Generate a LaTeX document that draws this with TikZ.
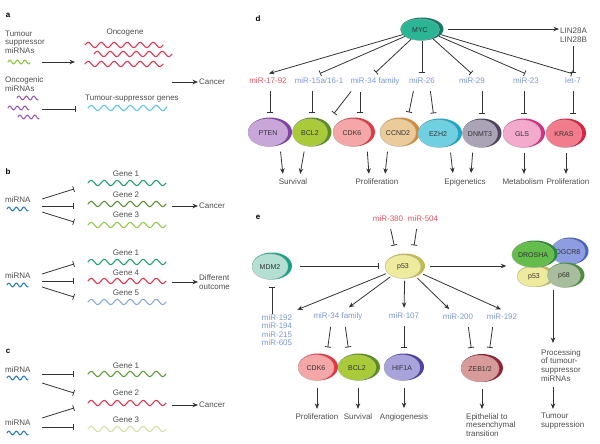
\documentclass[tikz,border=0pt]{standalone}
\usepackage{fontspec}
\setmainfont{Liberation Sans}
\usetikzlibrary{arrows.meta,shapes.geometric}
\definecolor{txt}{HTML}{4D4D4D}
\definecolor{ln}{HTML}{333333}
\definecolor{mirblue}{HTML}{7B98CF}
\definecolor{mirred}{HTML}{E0535F}
\definecolor{wred}{HTML}{E23550}
\definecolor{acyan}{HTML}{5EC6E6}
\definecolor{agreen}{HTML}{8CC63F}
\definecolor{apurple}{HTML}{9A5CB4}
\definecolor{mirw}{HTML}{2D7DBF}
\definecolor{gone}{HTML}{22A06C}
\definecolor{gtwo}{HTML}{5E8E3A}
\definecolor{gthree}{HTML}{93C74C}
\definecolor{gfive}{HTML}{8DA7D9}
\definecolor{cgone}{HTML}{5E9B3B}
\definecolor{cgthree}{HTML}{D4DFA6}
\definecolor{mycL}{HTML}{2AB594}\definecolor{mycD}{HTML}{137A66}
\definecolor{ptenL}{HTML}{C9A6DA}\definecolor{ptenD}{HTML}{8040A8}
\definecolor{bclL}{HTML}{A9CB3A}\definecolor{bclD}{HTML}{5B8E1E}
\definecolor{cdkL}{HTML}{F5A6A6}\definecolor{cdkD}{HTML}{E33845}
\definecolor{ccnL}{HTML}{EBCB99}\definecolor{ccnD}{HTML}{D58A36}
\definecolor{ezhL}{HTML}{70D0E2}\definecolor{ezhD}{HTML}{1CA6CA}
\definecolor{dnmL}{HTML}{ABA4B6}\definecolor{dnmD}{HTML}{4E4460}
\definecolor{glsL}{HTML}{F3AACD}\definecolor{glsD}{HTML}{D62F84}
\definecolor{krasL}{HTML}{F27C8C}\definecolor{krasD}{HTML}{DB2442}
\definecolor{mdmL}{HTML}{B4DFD3}\definecolor{mdmD}{HTML}{1DA184}
\definecolor{psL}{HTML}{EEEA9E}\definecolor{psD}{HTML}{C2BA4E}
\definecolor{hifL}{HTML}{A9A3DB}\definecolor{hifD}{HTML}{4B43A6}
\definecolor{zebL}{HTML}{D99A9A}\definecolor{zebD}{HTML}{952535}
\definecolor{droL}{HTML}{64BC4C}\definecolor{droD}{HTML}{2B8B31}
\definecolor{dgcL}{HTML}{8C9DE2}\definecolor{dgcD}{HTML}{4A63C6}
\definecolor{psxL}{HTML}{A8BD9B}\definecolor{psxD}{HTML}{4F8C3F}
% wave: x0, length, y, colour, period, amplitude
\newcommand\wv[6]{\draw[#4, line width=1.1pt, line cap=round] plot[domain=0:#2, samples=90, smooth] ({#1+\x},{#3-#6*sin((\x/#5)*360)});}
% blob: name, x, y, w, h, light, dark, text
\newcommand\blob[8]{%
  \node[ellipse, fill=#7, minimum width=#4pt, minimum height=#5pt, inner sep=0pt] (#1) at (#2,#3) {};
  \node[ellipse, fill=#6, draw=black!30, line width=0.3pt, minimum width={(#4-4)*1pt}, minimum height={(#5-1.5)*1pt}, inner sep=0pt, font=\fontsize{7}{8}\selectfont, text=ln] (#1l) at (#2-2,#3+0.6) {#8};
}
\begin{document}
\begin{tikzpicture}[x=1pt,y=-1pt,
  every node/.style={font=\fontsize{8}{8.7}\selectfont, text=txt, inner sep=1pt},
  blu/.style={text=mirblue, inner sep=4pt},
  mirr/.style={text=mirred, inner sep=4pt},
  outs/.style={inner sep=4pt},
  con/.style={draw=ln, line width=0.8pt},
  arr/.style={con, -{Stealth[length=5.5pt,width=4.5pt]}},
  inh/.style={con, -{Bar[width=6pt]}},
  letter/.style={font=\fontsize{8}{9}\selectfont\bfseries, text=black}]
\useasboundingbox (0,0) rectangle (600,444);

% ---------------- panel a
\node[letter] (la) at (8,15) {a};
\node[anchor=west, align=left] (tsm) at (4,42) {Tumour\\suppressor\\miRNAs};
\wv{8}{22}{62}{agreen}{7.5}{1.8}
\coordinate (as1) at (42,62); \coordinate (ae1) at (75,62);
\draw[arr] (as1) -- (ae1);
\node (onc) at (125,33) {Oncogene};
\wv{85}{78}{45}{wred}{13}{2.6}
\wv{94}{78}{54}{wred}{13}{2.6}
\wv{85}{78}{64}{wred}{13}{2.6}
\node[anchor=west, align=left] (ocm) at (4,84) {Oncogenic\\miRNAs};
\wv{17}{21}{98}{apurple}{7.5}{1.8}
\wv{8}{21}{108}{apurple}{7.5}{1.8}
\wv{18}{21}{117}{apurple}{7.5}{1.8}
\coordinate (as2) at (42,109); \coordinate (ae2) at (76,109);
\draw[inh] (as2) -- (ae2);
\node (tsg) at (132,99) {Tumour-suppressor genes};
\wv{88}{79}{108}{acyan}{13}{2.6}
\node[anchor=west] (cana) at (198,82) {Cancer};
\coordinate (ao) at (172,82);
\draw[arr] (ao) -- (cana.west);

% ---------------- panel b
\node[letter] (lb) at (8,172) {b};
\node[anchor=west] (mb1) at (4,200) {miRNA};
\wv{7}{21}{209}{mirw}{7.5}{1.8}
\coordinate (bs1) at (42,199); \coordinate (be1) at (74,189);
\coordinate (bs2) at (42,206); \coordinate (be2) at (74,206);
\coordinate (bs3) at (42,212); \coordinate (be3) at (74,222);
\draw[inh] (bs1) -- (be1); \draw[inh] (bs2) -- (be2); \draw[inh] (bs3) -- (be3);
\node (bg1) at (126,174) {Gene 1}; \wv{88}{78}{183}{gone}{13}{2.6}
\node (bg2) at (126,195) {Gene 2}; \wv{88}{78}{204}{gtwo}{13}{2.6}
\node (bg3) at (126,215) {Gene 3}; \wv{88}{78}{225}{gthree}{13}{2.6}
\coordinate (bo1) at (172,206);
\node[anchor=west] (canb) at (198,206) {Cancer};
\draw[arr] (bo1) -- (canb.west);

\node (bg4a) at (126,253) {Gene 1}; \wv{88}{78}{262}{gone}{13}{2.6}
\node (bg4) at (126,273) {Gene 4}; \wv{88}{78}{281}{wred}{13}{2.6}
\node (bg5) at (126,293) {Gene 5}; \wv{88}{78}{302}{gfive}{13}{2.6}
\node[anchor=west] (mb2) at (4,276) {miRNA};
\wv{7}{21}{285}{mirw}{7.5}{1.8}
\coordinate (bs4) at (42,274); \coordinate (be4) at (74,264);
\coordinate (bs5) at (42,281); \coordinate (be5) at (74,281);
\coordinate (bs6) at (42,287); \coordinate (be6) at (74,297);
\draw[inh] (bs4) -- (be4); \draw[inh] (bs5) -- (be5); \draw[inh] (bs6) -- (be6);
\coordinate (bo2) at (172,282);
\node[anchor=west, align=left] (diff) at (198,282) {Different\\outcome};
\draw[arr] (bo2) -- (diff.west);

% ---------------- panel c
\node[letter] (lc) at (8,351) {c};
\node[anchor=west] (mc1) at (4,370) {miRNA};
\wv{7}{21}{378}{mirw}{7.5}{1.8}
\node (cg1) at (126,366) {Gene 1}; \wv{88}{78}{374}{cgone}{13}{2.6}
\node (cg2) at (126,393) {Gene 2}; \wv{88}{78}{403}{wred}{13}{2.6}
\node (cg3) at (126,420) {Gene 3}; \wv{88}{78}{429}{cgthree}{13}{2.6}
\node[anchor=west] (mc2) at (4,423) {miRNA};
\wv{7}{21}{433}{mirw}{7.5}{1.8}
\coordinate (cs1) at (42,374); \coordinate (ce1) at (74,374);
\coordinate (cs2) at (42,383); \coordinate (ce2) at (74,393);
\coordinate (cs3) at (42,418); \coordinate (ce3) at (74,408);
\coordinate (cs4) at (42,427); \coordinate (ce4) at (74,427);
\draw[inh] (cs1) -- (ce1); \draw[inh] (cs2) -- (ce2);
\draw[inh] (cs3) -- (ce3); \draw[inh] (cs4) -- (ce4);
\coordinate (co) at (172,405);
\node[anchor=west] (canc) at (198,405) {Cancer};
\draw[arr] (co) -- (canc.west);

% ---------------- panel d
\node[letter] (ld) at (258,19) {d};
\blob{myc}{422}{29}{43}{23}{mycL}{mycD}{MYC}
\node[mirr] (m1792) at (268,81) {miR-17-92};
\node[blu] (m15) at (319,81) {miR-15a/16-1};
\node[blu] (m34) at (375,81) {miR-34 family};
\node[blu] (m26) at (422,81) {miR-26};
\node[blu] (m29) at (472,81) {miR-29};
\node[blu] (m23) at (526,81) {miR-23};
\node[blu] (let7) at (573,81) {let-7};
\node[anchor=west, align=left] (lin) at (559,35) {LIN28A\\LIN28B};

\draw[arr, shorten >=1pt] (myc) -- (m1792.north);
\draw[inh, shorten >=1pt] (myc) -- (m15.north);
\draw[inh, shorten >=1pt] (myc) -- (m34.north);
\draw[inh, shorten >=1pt] (myc) -- (m26.north);
\draw[inh, shorten >=1pt] (myc) -- (m29.north);
\draw[inh, shorten >=1pt] (myc) -- (m23.north);
\draw[inh, shorten >=1pt] (myc) -- (let7.north);
\draw[arr, shorten <=4pt] (myc.east) -- (lin.west |- myc.east);
\draw[inh, shorten <=3pt, shorten >=1pt] (let7.north |- lin.south) -- (let7.north);

\blob{pten}{270}{132}{44}{29}{ptenL}{ptenD}{PTEN}
\blob{bcld}{312}{132}{39}{29}{bclL}{bclD}{BCL2}
\blob{cdkd}{354}{132}{42}{29}{cdkL}{cdkD}{CDK6}
\blob{ccnd}{400}{132}{40}{29}{ccnL}{ccnD}{CCND2}
\blob{ezh}{440}{133}{44}{29}{ezhL}{ezhD}{EZH2}
\blob{dnmt}{482}{133}{39}{29}{dnmL}{dnmD}{DNMT3}
\blob{gls}{524}{133}{42}{29}{glsL}{glsD}{GLS}
\blob{kras}{566}{133}{40}{29}{krasL}{krasD}{KRAS}

\tikzset{dbar/.style={inh, shorten <=3pt, shorten >=5pt}}
\draw[dbar] (m1792.south -| pten) -- (pten.north);
\draw[dbar] (m15.south -| bcld) -- (bcld.north);
\draw[dbar] ([xshift=-22pt]m34.south) -- ([xshift=19pt]bcld.north);
\draw[dbar] ([xshift=-15pt]m34.south) -- ([xshift=-15pt]m34.south |- cdkd.north);
\draw[dbar] ([xshift=-8pt]m26.south) -- ([xshift=8pt]ccnd.north);
\draw[dbar] ([xshift=8pt]m26.south) -- ([xshift=-6pt]ezh.north);
\draw[dbar] (m29.south -| dnmt) -- (dnmt.north);
\draw[dbar] (m23.south -| gls) -- (gls.north);
\draw[dbar] (let7.south) -- (let7.south |- kras.north);

\node[outs] (surv) at (293,182) {Survival};
\node[outs] (prol) at (377,182) {Proliferation};
\node[outs] (epig) at (465,182) {Epigenetics};
\node[outs] (metab) at (523,182) {Metabolism};
\node[outs] (prolb) at (568,182) {Proliferation};
\tikzset{darr/.style={arr, shorten <=5pt, shorten >=1pt}}
\draw[darr] ([xshift=10pt]pten.south) -- ([xshift=-10pt]surv.north);
\draw[darr] ([xshift=-7pt]bcld.south) -- ([xshift=7pt]surv.north);
\draw[darr] ([xshift=13pt]cdkd.south) -- ([xshift=-8pt]prol.north);
\draw[darr] ([xshift=-12pt]ccnd.south) -- ([xshift=8pt]prol.north);
\draw[darr] ([xshift=10pt]ezh.south) -- ([xshift=-12pt]epig.north);
\draw[darr] ([xshift=-9pt]dnmt.south) -- ([xshift=6pt]epig.north);
\draw[darr] (gls.south) -- (gls.south |- metab.north);
\draw[darr] (kras.south) -- (kras.south |- prolb.north);

% ---------------- panel e
\node[letter] (le) at (258,217) {e};
\node[mirr] (m380) at (388,219) {miR-380};
\node[mirr] (m504) at (423,219) {miR-504};
\blob{mdm}{272}{266}{40}{27}{mdmL}{mdmD}{MDM2}
\blob{pf}{405}{266}{40}{25}{psL}{psD}{p53}
\draw[inh, shorten <=3pt, shorten >=8pt] ([xshift=2pt]m380.south) -- ([xshift=-9pt]pf.north);
\draw[inh, shorten <=3pt, shorten >=8pt] ([xshift=-6pt]m504.south) -- ([xshift=8pt]pf.north);
\draw[inh, shorten <=8pt, shorten >=6pt] (mdm) -- (pf);

\node[blu, align=center, font=\fontsize{8}{8.5}\selectfont] (m192l) at (277,330) {miR-192\\miR-194\\miR-215\\miR-605};
\node[blu] (m34e) at (338,316) {miR-34 family};
\node[blu] (m107) at (404,316) {miR-107};
\node[blu] (m200) at (458,317) {miR-200};
\node[blu] (m192r) at (502,317) {miR-192};
\draw[inh, shorten <=-4pt, shorten >=7pt] (m192l.north -| mdm) -- (mdm.south);
\tikzset{parr/.style={arr, shorten <=2pt, shorten >=1pt}}
\draw[parr] (pf) -- (m192l.north east);
\draw[parr] (pf) -- ([xshift=10pt]m34e.north);
\draw[parr] (pf) -- (m107.north);
\draw[parr] (pf) -- ([xshift=-8pt]m200.north);
\draw[parr] (pf) -- (m192r.north);

\blob{cdke}{318}{367}{40}{27}{cdkL}{cdkD}{CDK6}
\blob{bcle}{359}{367}{42}{27}{bclL}{bclD}{BCL2}
\blob{hif}{404}{367}{40}{27}{hifL}{hifD}{HIF1A}
\blob{zeb}{482}{368}{42}{28}{zebL}{zebD}{ZEB1/2}
\tikzset{ebar/.style={inh, shorten <=3pt, shorten >=6pt}}
\draw[ebar] ([xshift=-7pt]m34e.south) -- ([xshift=9pt]cdke.north);
\draw[ebar] ([xshift=7pt]m34e.south) -- ([xshift=-10pt]bcle.north);
\draw[ebar] (m107.south) -- (hif.north);
\draw[ebar] ([xshift=10pt]m200.south) -- ([xshift=-10pt]zeb.north);
\draw[ebar] ([xshift=-9pt]m192r.south) -- ([xshift=7pt]zeb.north);

\node[outs] (prole) at (317,417) {Proliferation};
\node[outs] (surve) at (358,417) {Survival};
\node[outs] (angio) at (404,417) {Angiogenesis};
\node[anchor=north west, align=left] (emt) at (465,412) {Epithelial to\\mesenchymal\\transition};
\tikzset{earr/.style={arr, shorten <=7pt, shorten >=1pt}}
\draw[earr] (cdke.south -| prole) -- (prole.north);
\draw[earr] (bcle.south -| surve) -- (surve.north);
\draw[earr] (hif.south) -- (angio.north);
\draw[earr, shorten >=3pt] (zeb.south) -- (zeb.south |- emt.north);

% complex
\blob{dgcr}{570}{251}{37}{27}{dgcL}{dgcD}{DGCR8}
\blob{pfc}{536}{276}{38}{22}{psL}{psD}{p53}
\blob{psx}{566}{275}{37}{25}{psxL}{psxD}{p68}
\blob{dro}{535}{254}{45}{27}{droL}{droD}{DROSHA}
\draw[arr, shorten <=5pt, shorten >=6pt] (pf.east) -- (dro.west |- pf.east);

\node[anchor=north west, align=left] (proc) at (540,348) {Processing\\of tumour-\\suppressor\\miRNAs};
\node[anchor=north west, align=left] (tsup) at (540,412) {Tumour\\suppression};
\coordinate (cx) at (553,289);
\draw[arr, shorten <=1pt, shorten >=5pt] (cx) -- (cx |- proc.north);
\draw[arr, shorten <=5pt, shorten >=3pt] (cx |- proc.south) -- (cx |- tsup.north);
\end{tikzpicture}
\end{document}
